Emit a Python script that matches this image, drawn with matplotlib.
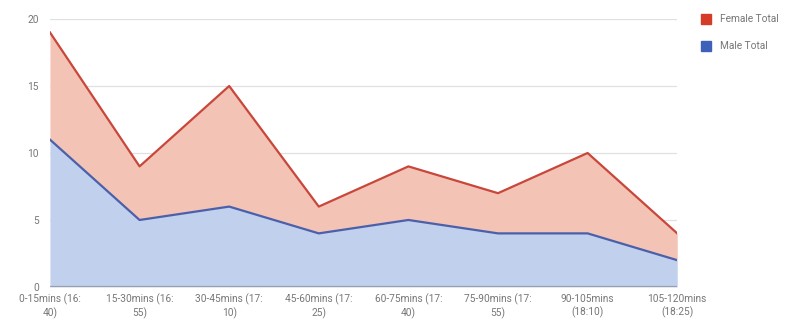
import matplotlib.pyplot as plt
import numpy as np

categories = ["0-15mins (16:\n40)", "15-30mins (16:\n55)", "30-45mins (17:\n10)",
              "45-60mins (17:\n25)", "60-75mins (17:\n40)", "75-90mins (17:\n55)",
              "90-105mins\n(18:10)", "105-120mins\n(18:25)"]
male_total = [11, 5, 6, 4, 5, 4, 4, 2]
female_total = [8, 4, 9, 2, 4, 3, 6, 2]

plt.rcParams['font.family'] = ['Roboto', 'DejaVu Sans']

fig = plt.figure(figsize=(7.93, 3.25), dpi=100)
ax = fig.add_axes([0.063, 0.117, 0.791, 0.8245])

x = np.arange(len(categories))
male = np.array(male_total, dtype=float)
stack_top = male + np.array(female_total, dtype=float)

ax.fill_between(x, 0, male, color='#c1d0ec', lw=0, zorder=2)
ax.fill_between(x, male, stack_top, color='#f3c3b6', lw=0, zorder=2)
ax.plot(x, male, color='#4a60ab', lw=1.6, zorder=3)
ax.plot(x, stack_top, color='#c8473a', lw=1.6, zorder=3)

ax.set_xlim(0, len(categories) - 1)
ax.set_ylim(0, 20)
ax.set_yticks([0, 5, 10, 15, 20])
ax.yaxis.grid(True, color='#e0e0e0', lw=0.9, zorder=1)
ax.set_axisbelow(True)
ax.axhline(0, color='#9aa0ab', lw=1.6, zorder=4)

for s in ax.spines.values():
    s.set_visible(False)
ax.tick_params(axis='both', length=0, colors='#777777', labelsize=7.3)
ax.tick_params(axis='y', pad=8)
ax.tick_params(axis='x', pad=5)
ax.set_xticks(x)
ax.set_xticklabels(categories, linespacing=1.25)

# Legend
fig.patches.append(plt.Rectangle((0.884, 0.925), 0.013, 0.032, transform=fig.transFigure,
                                 color='#d43b28', figure=fig))
fig.patches.append(plt.Rectangle((0.884, 0.842), 0.013, 0.032, transform=fig.transFigure,
                                 color='#3d60b8', figure=fig))
fig.text(0.908, 0.941, "Female Total", fontsize=7.3, color='#777777', va='center')
fig.text(0.908, 0.858, "Male Total", fontsize=7.3, color='#777777', va='center')

fig.savefig('out.png', dpi=100)
